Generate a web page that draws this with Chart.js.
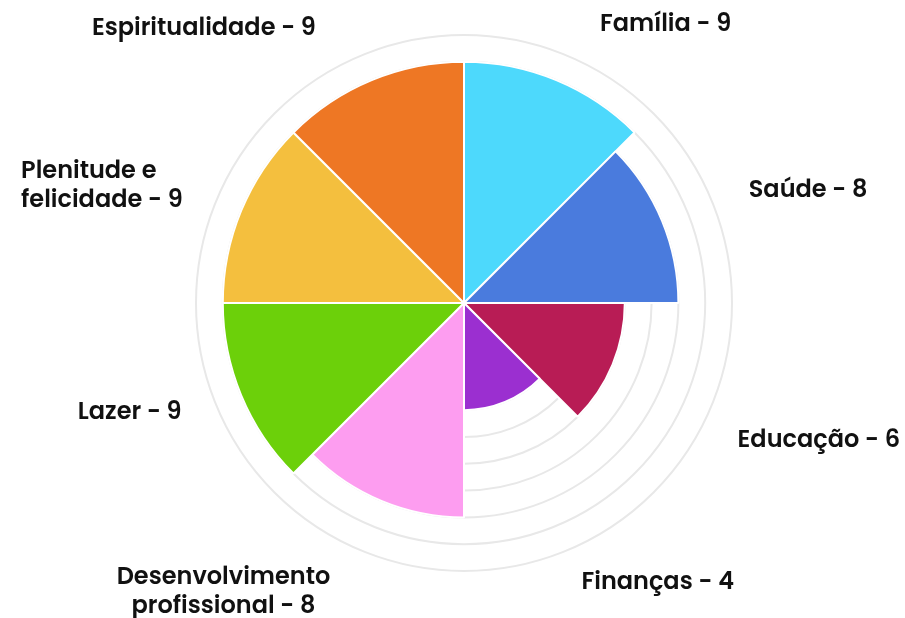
<!doctype html>
<html>

<head>
  <meta charset="utf-8">
  <title>Roda da vida</title>
  <script src="https://cdn.jsdelivr.net/npm/chart.js@4.4.1/dist/chart.umd.min.js"></script>
  <style>
    html, body {
      margin: 0;
      padding: 0;
      background: #fff;
    }
    .chart {
      width: 905px;
      height: 618px;
    }
  </style>
</head>

<body>
  <div class="chart">
    <canvas id="myChart"></canvas>
  </div>

  <script>
    // categories (multi-line names are split where the picture wraps them)
    var categories = [
      ['Família'],
      ['Saúde'],
      ['Educação'],
      ['Finanças'],
      ['Desenvolvimento', 'profissional'],
      ['Lazer'],
      ['Plenitude e', 'felicidade'],
      ['Espiritualidade']
    ];
    var scores = [9, 8, 6, 4, 8, 9, 9, 9];
    var colors = ['#4dd9fc', '#4a7bdd', '#b81c55', '#9b2fd0', '#fd9df0', '#6cd00a', '#f4bf3e', '#ee7724'];

    // where each outside label sits: angle (deg, clockwise from top) and distance (x radius)
    var labelAngle = [36, 72, 111.2, 145.3, 219.7, 251.8, 287.9, 316.5];
    var labelDist = [1.28, 1.35, 1.42, 1.27, 1.405, 1.313, 1.42, 1.41];
    var labelAlign = ['center', 'center', 'center', 'center', 'center', 'center', 'left', 'center'];

    var outsideLabels = {
      id: 'outsideLabels',
      afterDraw: function(chart) {
        var r = chart.scales.r;
        var ctx = chart.ctx;
        var lineH = 29;
        ctx.save();
        ctx.font = '600 24px Poppins, Inter, "Noto Sans", sans-serif';
        ctx.fillStyle = '#111';
        ctx.textBaseline = 'middle';
        categories.forEach(function(cat, i) {
          var lines = cat.slice();
          lines[lines.length - 1] += ' - ' + scores[i];
          var a = labelAngle[i] * Math.PI / 180;
          var x = r.xCenter + labelDist[i] * r.drawingArea * Math.sin(a);
          var y = r.yCenter - labelDist[i] * r.drawingArea * Math.cos(a);
          var w = Math.max.apply(null, lines.map(function(l) { return ctx.measureText(l).width; }));
          var y0 = y - (lines.length - 1) * lineH / 2;
          lines.forEach(function(l, j) {
            if (labelAlign[i] === 'left') {
              ctx.textAlign = 'left';
              ctx.fillText(l, x - w / 2, y0 + j * lineH);
            } else {
              ctx.textAlign = 'center';
              ctx.fillText(l, x, y0 + j * lineH);
            }
          });
        });
        ctx.restore();
      }
    };

    var config = {
      type: 'polarArea',
      data: {
        labels: categories.map(function(c) { return c.join(' '); }),
        datasets: [{
          data: scores,
          backgroundColor: colors,
          borderColor: '#fff',
          borderWidth: 2
        }]
      },
      options: {
        responsive: true,
        maintainAspectRatio: false,
        animation: false,
        layout: {
          padding: {top: 35, bottom: 47, left: 23, right: 0}
        },
        scales: {
          r: {
            min: 0,
            max: 10,
            ticks: {
              display: false,
              stepSize: 1
            },
            grid: {
              color: '#e8e8e8',
              lineWidth: 2
            },
            angleLines: {
              display: false
            },
            pointLabels: {
              display: false
            }
          }
        },
        plugins: {
          legend: {
            display: false
          },
          tooltip: {
            enabled: false
          }
        }
      },
      plugins: [outsideLabels]
    };

    window.onload = function() {
      var ctx = document.getElementById('myChart').getContext('2d');
      window.myChart = new Chart(ctx, config);
    };
  </script>
</body>

</html>
